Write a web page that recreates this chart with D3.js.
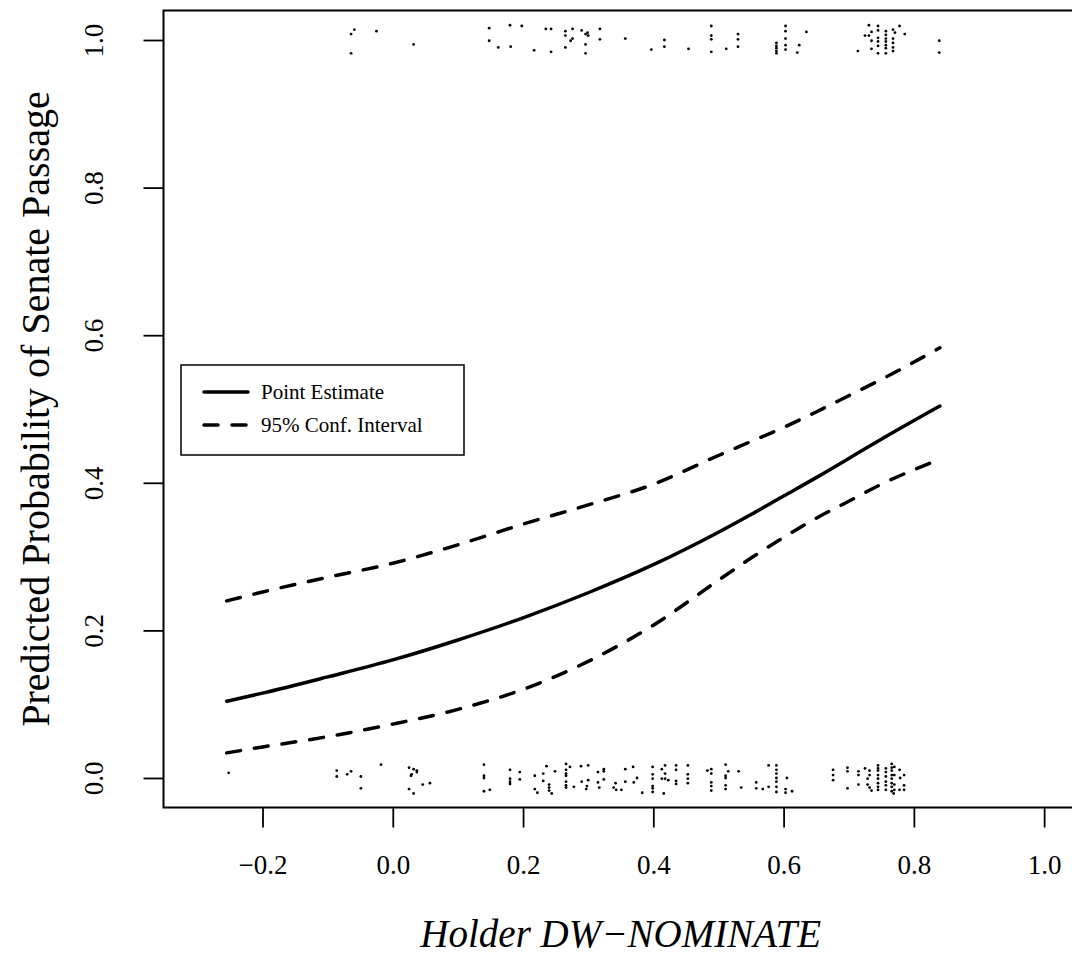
<!DOCTYPE html>
<html>
<head>
<meta charset="utf-8">
<script src="https://cdn.jsdelivr.net/npm/d3@7"></script>
<style>
  body { margin: 0; background: #fff; }
  svg text { font-family: "Liberation Serif", "Times New Roman", serif; fill: #000; }
</style>
</head>
<body>
<svg id="chart" width="1072" height="957"></svg>
<script>
// fitted curve
var curveX = [-0.255, -0.2, -0.1, 0.0, 0.1, 0.2, 0.3, 0.4, 0.5, 0.55, 0.6, 0.65, 0.7, 0.75, 0.84];
var pointEst = [0.104, 0.115, 0.137, 0.160, 0.187, 0.217, 0.251, 0.289, 0.333, 0.357, 0.382, 0.407, 0.433, 0.459, 0.504];
var upperCI = [0.240, 0.252, 0.272, 0.291, 0.316, 0.344, 0.370, 0.398, 0.437, 0.456, 0.475, 0.496, 0.518, 0.540, 0.583];
var lowerCI = [0.034, 0.042, 0.056, 0.073, 0.093, 0.120, 0.158, 0.207, 0.268, 0.298, 0.326, 0.352, 0.375, 0.398, 0.432];

var xTicks = [-0.2, 0.0, 0.2, 0.4, 0.6, 0.8, 1.0];
var yTicks = [0.0, 0.2, 0.4, 0.6, 0.8, 1.0];

// jittered observations, [dw-nominate, outcome]
var passed = [
  [-0.059, 1.014], [-0.064, 1.008], [-0.025, 1.012], [-0.064, 0.982], [0.032, 0.994],
  [0.148, 1.016], [0.180, 1.020], [0.198, 1.019], [0.148, 0.999], [0.162, 0.990],
  [0.181, 0.991], [0.217, 0.986], [0.235, 1.015], [0.243, 1.015], [0.243, 0.984],
  [0.265, 1.012], [0.265, 1.006], [0.276, 1.015], [0.276, 1.002], [0.273, 0.999],
  [0.265, 0.990], [0.290, 1.013], [0.296, 1.008], [0.299, 1.010], [0.300, 1.006],
  [0.296, 0.994], [0.296, 0.982], [0.318, 1.015], [0.318, 1.001], [0.357, 1.002],
  [0.397, 0.987], [0.417, 1.000], [0.417, 0.991], [0.454, 0.988],
  [0.489, 1.019], [0.489, 1.006], [0.489, 1.001], [0.489, 0.984], [0.512, 0.988],
  [0.530, 1.008], [0.530, 1.001], [0.530, 0.991],
  [0.603, 1.019], [0.603, 1.012], [0.603, 1.002], [0.603, 0.993], [0.603, 0.987],
  [0.589, 0.996], [0.589, 0.992], [0.589, 0.989], [0.589, 0.985], [0.589, 0.982],
  [0.635, 1.011], [0.624, 0.993], [0.621, 0.983],
  [0.731, 1.020], [0.725, 1.006], [0.731, 1.006], [0.735, 1.011], [0.735, 0.999],
  [0.735, 0.988], [0.714, 0.985],
  [0.745, 1.019], [0.745, 1.013], [0.745, 1.003], [0.745, 0.998], [0.745, 0.992], [0.745, 0.982],
  [0.757, 1.012], [0.757, 1.007], [0.757, 1.002], [0.757, 0.998], [0.757, 0.993], [0.757, 0.989], [0.757, 0.982],
  [0.768, 1.014], [0.771, 1.010], [0.768, 1.002], [0.768, 0.996], [0.768, 0.990], [0.768, 0.985],
  [0.778, 1.019], [0.786, 1.008], [0.839, 0.999], [0.839, 0.983]
];

var failed = [
  [-0.252, 0.007], [-0.086, 0.010], [-0.086, 0.002], [-0.070, 0.005], [-0.064, 0.009],
  [-0.049, 0.002], [-0.049, -0.014], [-0.018, 0.018],
  [0.025, 0.014], [0.032, 0.012], [0.037, 0.010], [0.037, 0.008], [0.029, 0.005],
  [0.028, 0.003], [0.025, -0.015], [0.032, -0.021], [0.046, -0.009], [0.057, -0.007],
  [0.140, 0.018], [0.140, 0.003], [0.140, 0.000], [0.140, -0.018], [0.149, -0.016],
  [0.180, 0.011], [0.180, -0.001], [0.180, -0.005], [0.180, -0.008], [0.195, 0.008], [0.195, -0.002],
  [0.218, 0.003], [0.218, -0.015], [0.222, -0.020], [0.231, 0.006], [0.231, -0.004],
  [0.236, 0.016], [0.240, -0.009], [0.240, -0.013], [0.240, -0.017], [0.244, -0.021], [0.249, 0.009],
  [0.266, 0.019], [0.266, 0.011], [0.266, 0.006], [0.266, 0.003], [0.266, -0.005],
  [0.266, -0.010], [0.266, -0.013], [0.272, 0.015], [0.278, -0.012],
  [0.289, 0.016], [0.300, 0.017], [0.290, -0.005], [0.300, -0.003], [0.298, -0.011], [0.297, -0.015],
  [0.315, 0.008], [0.315, -0.006], [0.317, -0.013], [0.324, 0.012], [0.324, 0.009], [0.324, -0.002],
  [0.342, -0.007], [0.339, -0.013], [0.343, -0.016], [0.351, -0.016],
  [0.357, 0.012], [0.357, -0.005], [0.369, 0.015], [0.375, 0.000], [0.370, -0.006], [0.383, -0.020],
  [0.399, 0.015], [0.399, 0.005], [0.399, -0.001], [0.399, -0.011], [0.399, -0.014], [0.399, -0.019],
  [0.413, 0.012], [0.418, 0.017], [0.418, 0.006], [0.413, -0.001], [0.418, -0.001],
  [0.423, -0.003], [0.416, -0.021],
  [0.435, 0.017], [0.435, 0.011], [0.435, -0.004], [0.435, -0.008],
  [0.453, 0.017], [0.453, 0.005], [0.453, -0.001], [0.453, -0.007],
  [0.483, 0.010], [0.489, 0.012], [0.489, 0.006], [0.489, -0.006], [0.489, -0.011], [0.489, -0.017],
  [0.511, 0.018], [0.515, 0.009], [0.511, 0.003], [0.511, 0.000], [0.511, -0.010], [0.511, -0.015],
  [0.531, 0.009], [0.535, -0.013], [0.558, -0.006], [0.558, -0.014], [0.568, -0.015],
  [0.577, 0.017], [0.577, -0.012],
  [0.589, 0.017], [0.589, 0.011], [0.589, 0.006], [0.589, 0.000], [0.589, -0.005],
  [0.589, -0.012], [0.589, -0.019], [0.605, 0.000], [0.603, -0.015], [0.603, -0.020], [0.613, -0.018],
  [0.676, 0.011], [0.676, 0.004], [0.676, -0.003],
  [0.698, 0.014], [0.698, 0.009], [0.698, -0.014],
  [0.715, 0.009], [0.715, 0.004], [0.715, -0.009],
  [0.725, 0.013], [0.732, 0.010], [0.732, 0.004], [0.729, -0.001], [0.729, -0.009],
  [0.732, -0.013], [0.735, -0.017],
  [0.745, 0.017], [0.745, 0.013], [0.745, 0.010], [0.745, 0.004], [0.745, -0.001],
  [0.745, -0.007], [0.745, -0.012], [0.745, -0.016],
  [0.757, 0.013], [0.757, 0.008], [0.757, 0.002], [0.757, -0.005], [0.757, -0.010], [0.757, -0.016],
  [0.766, 0.019], [0.766, 0.014], [0.766, 0.010], [0.766, 0.004], [0.766, -0.001],
  [0.766, -0.007], [0.766, -0.012], [0.766, -0.018], [0.769, -0.021],
  [0.770, 0.015], [0.770, 0.004], [0.770, -0.009], [0.770, -0.016],
  [0.778, 0.011], [0.779, 0.000], [0.778, -0.016],
  [0.785, 0.004], [0.785, -0.010], [0.785, -0.016]
];

var legendItems = [
  { label: 'Point Estimate', dash: null },
  { label: '95% Conf. Interval', dash: '14,14' }
];

var svg = d3.select('#chart');
var box = { left: 163.5, right: 1078, top: 10.5, bottom: 807.5 };

var x = d3.scaleLinear().domain([-0.352, 1.052]).range([box.left, box.right]);
var y = d3.scaleLinear().domain([-0.04, 1.04]).range([box.bottom, box.top]);
var fmt = d3.format('.1f');

// axes (R style: ticks outside, no axis line of its own)
var xAxis = svg.append('g')
  .attr('transform', 'translate(0,' + box.bottom + ')')
  .call(d3.axisBottom(x).tickValues(xTicks).tickSize(20).tickPadding(27).tickFormat(fmt));
xAxis.select('.domain').remove();
xAxis.selectAll('line').attr('stroke', '#000').attr('stroke-width', 1.8);
xAxis.selectAll('text').attr('font-size', 27).attr('font-family', '"Liberation Serif", serif').attr('fill', '#000');

var yAxis = svg.append('g')
  .attr('transform', 'translate(' + box.left + ',0)')
  .call(d3.axisLeft(y).tickValues(yTicks).tickSize(20).tickFormat(fmt));
yAxis.select('.domain').remove();
yAxis.selectAll('line').attr('stroke', '#000').attr('stroke-width', 1.8);
yAxis.selectAll('text')
  .attr('x', null).attr('dy', null)
  .attr('text-anchor', 'middle')
  .attr('font-size', 27).attr('font-family', '"Liberation Serif", serif').attr('fill', '#000')
  .attr('transform', 'translate(-70,0) rotate(-90)')
  .attr('dominant-baseline', 'central');

// plot frame
svg.append('rect')
  .attr('x', box.left).attr('y', box.top)
  .attr('width', box.right - box.left).attr('height', box.bottom - box.top)
  .attr('fill', 'none').attr('stroke', '#000').attr('stroke-width', 2);

// curves
var line = d3.line()
  .x(function (d) { return x(d[0]); })
  .y(function (d) { return y(d[1]); })
  .curve(d3.curveMonotoneX);

function series(vals) {
  return curveX.map(function (v, i) { return [v, vals[i]]; });
}

svg.append('path').datum(series(pointEst))
  .attr('d', line).attr('fill', 'none').attr('stroke', '#000')
  .attr('stroke-width', 3.5).attr('stroke-linecap', 'round');

[upperCI, lowerCI].forEach(function (vals) {
  svg.append('path').datum(series(vals))
    .attr('d', line).attr('fill', 'none').attr('stroke', '#000')
    .attr('stroke-width', 3.5).attr('stroke-linecap', 'round')
    .attr('stroke-dasharray', '14,14');
});

// observations
svg.append('g').selectAll('circle')
  .data(passed.concat(failed))
  .enter().append('circle')
  .attr('cx', function (d) { return x(d[0]); })
  .attr('cy', function (d) { return y(d[1]); })
  .attr('r', 1.4)
  .attr('fill', '#000');

// legend
var legend = svg.append('g').attr('transform', 'translate(181,365)');
legend.append('rect')
  .attr('width', 283).attr('height', 90)
  .attr('fill', '#fff').attr('stroke', '#000').attr('stroke-width', 1.5);
var rows = legend.selectAll('g.item').data(legendItems)
  .enter().append('g')
  .attr('class', 'item')
  .attr('transform', function (d, i) { return 'translate(0,' + (27 + i * 33) + ')'; });
rows.append('line')
  .attr('x1', 23).attr('x2', 67)
  .attr('stroke', '#000').attr('stroke-width', 3.5).attr('stroke-linecap', 'round')
  .attr('stroke-dasharray', function (d) { return d.dash; });
rows.append('text')
  .attr('x', 80)
  .attr('dominant-baseline', 'central')
  .attr('font-size', 21)
  .text(function (d) { return d.label; });

// axis titles
svg.append('text')
  .attr('x', x(0.35)).attr('y', 947)
  .attr('text-anchor', 'middle')
  .attr('font-size', 39).attr('font-style', 'italic')
  .text('Holder DW\u2212NOMINATE');

svg.append('text')
  .attr('transform', 'translate(35,' + y(0.5) + ') rotate(-90)')
  .attr('text-anchor', 'middle').attr('dominant-baseline', 'central')
  .attr('font-size', 40)
  .text('Predicted Probability of Senate Passage');
</script>
</body>
</html>
